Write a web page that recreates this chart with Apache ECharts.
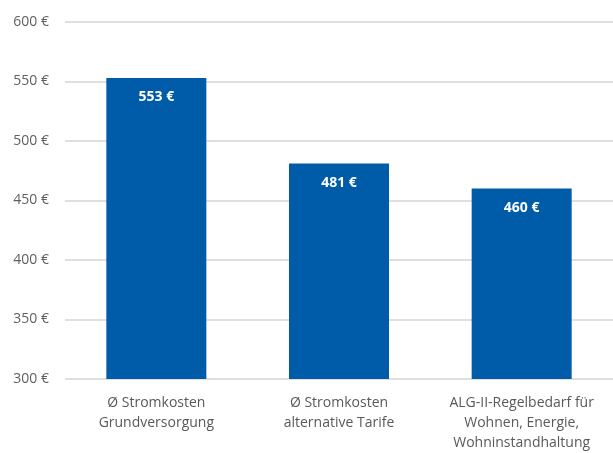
<!DOCTYPE html>
<html><head><meta charset="utf-8">
<script src="https://cdn.jsdelivr.net/npm/echarts@6/dist/echarts.min.js"></script>
<style>html,body{margin:0;padding:0;background:#fff}#c{width:613px;height:453px}</style>
</head><body><div id="c"></div>
<script>
const categories = ["Ø Stromkosten\nGrundversorgung", "Ø Stromkosten\nalternative Tarife", "ALG-II-Regelbedarf für\nWohnen, Energie,\nWohninstandhaltung"];
const values = [553, 481, 460];
const yTicks = [300, 350, 400, 450, 500, 550, 600];

const chart = echarts.init(document.getElementById('c'));
chart.setOption({
  animation: false,
  grid: { left: 65, right: -5, top: 22, bottom: 71, containLabel: false },
  xAxis: {
    type: 'category', data: categories,
    axisLine: { show: false }, axisTick: { show: false },
    axisLabel: { color: '#595959', fontFamily: 'Open Sans', fontSize: 14, lineHeight: 20, margin: 14, interval: 0 }
  },
  yAxis: {
    type: 'value', min: yTicks[0], max: yTicks[yTicks.length - 1], interval: 50,
    axisLine: { show: false }, axisTick: { show: false },
    axisLabel: { color: '#5f5f5f', fontFamily: 'Open Sans', fontSize: 14, margin: 16, formatter: v => v + ' €' },
    splitLine: { lineStyle: { color: '#d4d4d4', width: 1.5 } }
  },
  series: [{
    type: 'bar', data: values, barWidth: 100,
    itemStyle: { color: '#005ca9' },
    label: { show: true, position: 'insideTop', distance: 12, color: '#fff', fontFamily: 'Open Sans', fontWeight: 'bold', fontSize: 14, formatter: p => p.value + ' €' }
  }]
});
</script></body></html>
